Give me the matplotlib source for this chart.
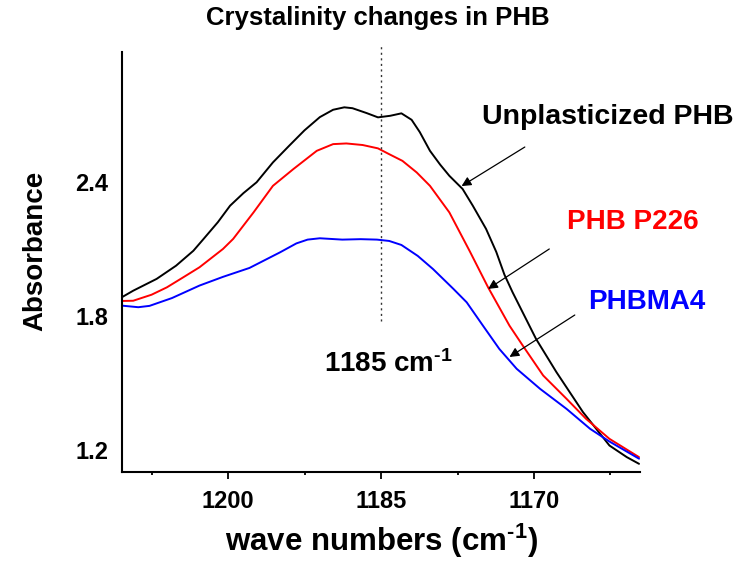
import matplotlib
matplotlib.use("Agg")
from matplotlib import pyplot as plt
from matplotlib.ticker import MultipleLocator

plt.rcParams["font.family"] = ["Liberation Sans", "DejaVu Sans"]
plt.rcParams["font.weight"] = "bold"
plt.rcParams["axes.labelweight"] = "bold"
plt.rcParams["mathtext.fontset"] = "custom"
plt.rcParams["mathtext.rm"] = "Liberation Sans:bold"
plt.rcParams["mathtext.bf"] = "Liberation Sans:bold"
plt.rcParams["mathtext.default"] = "bf"

# spectra in the 1160-1210 cm-1 region
wn_phb = [1210.4, 1209.3, 1207.0, 1205.1, 1203.4, 1202.4, 1201.0, 1199.8, 1198.5, 1197.2,
          1195.6, 1194.0, 1192.5, 1191.0, 1189.7, 1188.6, 1187.8, 1186.4, 1185.3, 1184.1,
          1183.0, 1182.0, 1181.2, 1180.2, 1179.2, 1178.3, 1177.0, 1176.0, 1174.7, 1173.7,
          1172.9, 1172.1, 1169.8, 1167.8, 1165.2, 1162.6, 1160.9, 1159.7]
abs_phb = [1.884, 1.913, 1.966, 2.025, 2.092, 2.145, 2.220, 2.294, 2.350, 2.399,
           2.488, 2.563, 2.632, 2.691, 2.724, 2.735, 2.731, 2.709, 2.690, 2.697,
           2.708, 2.679, 2.624, 2.540, 2.478, 2.428, 2.369, 2.294, 2.190, 2.087,
           1.985, 1.906, 1.697, 1.548, 1.369, 1.219, 1.167, 1.137]

wn_p226 = [1210.4, 1209.3, 1207.5, 1206.0, 1204.5, 1202.8, 1200.5, 1199.5, 1197.5, 1195.6,
           1193.6, 1191.3, 1189.7, 1188.4, 1186.8, 1185.3, 1184.2, 1182.9, 1181.5, 1180.2,
           1178.3, 1176.3, 1174.5, 1172.4, 1171.1, 1169.1, 1166.8, 1164.9, 1162.6, 1159.7]
abs_p226 = [1.867, 1.868, 1.895, 1.928, 1.970, 2.018, 2.100, 2.145, 2.264, 2.383,
            2.458, 2.540, 2.570, 2.573, 2.566, 2.551, 2.525, 2.495, 2.443, 2.383,
            2.264, 2.090, 1.928, 1.756, 1.667, 1.533, 1.428, 1.339, 1.249, 1.167]

wn_ma4 = [1210.4, 1208.8, 1207.7, 1205.5, 1202.8, 1200.5, 1197.9, 1194.9, 1194.3, 1193.3,
          1192.2, 1191.0, 1188.8, 1187.0, 1185.4, 1184.2, 1183.0, 1181.4, 1179.9, 1177.9,
          1176.6, 1175.0, 1173.4, 1171.7, 1169.4, 1166.8, 1164.5, 1162.6, 1159.7]
abs_ma4 = [1.846, 1.839, 1.845, 1.880, 1.936, 1.975, 2.015, 2.085, 2.100, 2.125,
           2.142, 2.148, 2.142, 2.144, 2.142, 2.136, 2.118, 2.069, 2.010, 1.921,
           1.861, 1.756, 1.652, 1.563, 1.473, 1.383, 1.294, 1.237, 1.160]

peak = 1185
x_ticks = [1200, 1185, 1170]
y_ticks = [1.2, 1.8, 2.4]

fig = plt.figure(figsize=(7.53, 5.62), dpi=100)
ax = fig.add_axes([0.162, 0.16, 0.688, 0.7475])

line_kw = dict(lw=1.4, solid_joinstyle="round", solid_capstyle="round")
ax.plot(wn_phb, abs_phb, color="black", **line_kw)
ax.plot(wn_p226, abs_p226, color="#ff0000", **line_kw)
ax.plot(wn_ma4, abs_ma4, color="#0000ff", **line_kw)

ax.plot([peak, peak], [1.777, 3.01], color="#333333", lw=1.0, ls=(0, (1.5, 2.5)), clip_on=False)

ax.set_xlim(1210.4, 1159.6)
ax.set_ylim(1.10, 2.983)
ax.set_xticks(x_ticks)
ax.set_xticklabels([str(t) for t in x_ticks])
ax.xaxis.set_minor_locator(MultipleLocator(7.5))
ax.set_yticks(y_ticks)
ax.set_yticklabels([str(t) for t in y_ticks])
ax.tick_params(axis="x", which="major", length=5, width=1.3, labelsize=17, pad=8)
ax.tick_params(axis="x", which="minor", length=2.5, width=1.3)
ax.tick_params(axis="y", length=0, labelsize=17, pad=10)

for s in ["top", "right"]:
    ax.spines[s].set_visible(False)
for s in ["left", "bottom"]:
    ax.spines[s].set_linewidth(1.5)

ax.set_xlabel(r"wave numbers (cm$^{\text{-1}}$)", fontsize=22.5, fontweight="bold")
ax.xaxis.set_label_coords(0.5, -0.119)
ax.set_ylabel("Absorbance", fontsize=20, fontweight="bold")
ax.yaxis.set_label_coords(-0.143, 0.526)
fig.text(0.502, 0.968, "Crystalinity changes in PHB", ha="center", va="center",
         fontsize=18.5, fontweight="bold")

arrow = dict(arrowstyle="-|>", color="black", lw=0.9, mutation_scale=14, shrinkA=0, shrinkB=0)
ax.annotate("", xy=(1177.1, 2.382), xytext=(1170.9, 2.557), arrowprops=arrow)
ax.annotate("", xy=(1174.5, 1.921), xytext=(1168.5, 2.10), arrowprops=arrow)
ax.annotate("", xy=(1172.4, 1.616), xytext=(1166.0, 1.804), arrowprops=arrow)

ax.text(1162.8, 2.691, "Unplasticized PHB", color="black", fontsize=20.5,
        ha="center", va="center", clip_on=False)
ax.text(1160.3, 2.221, "PHB P226", color="#ff0000", fontsize=20,
        ha="center", va="center", clip_on=False)
ax.text(1158.9, 1.863, "PHBMA4", color="#0000ff", fontsize=20,
        ha="center", va="center", clip_on=False)
ax.text(1184.3, 1.585, r"1185 cm$^{\text{-1}}$", color="black", fontsize=20,
        ha="center", va="center")

fig.savefig("out.png", dpi=100)
